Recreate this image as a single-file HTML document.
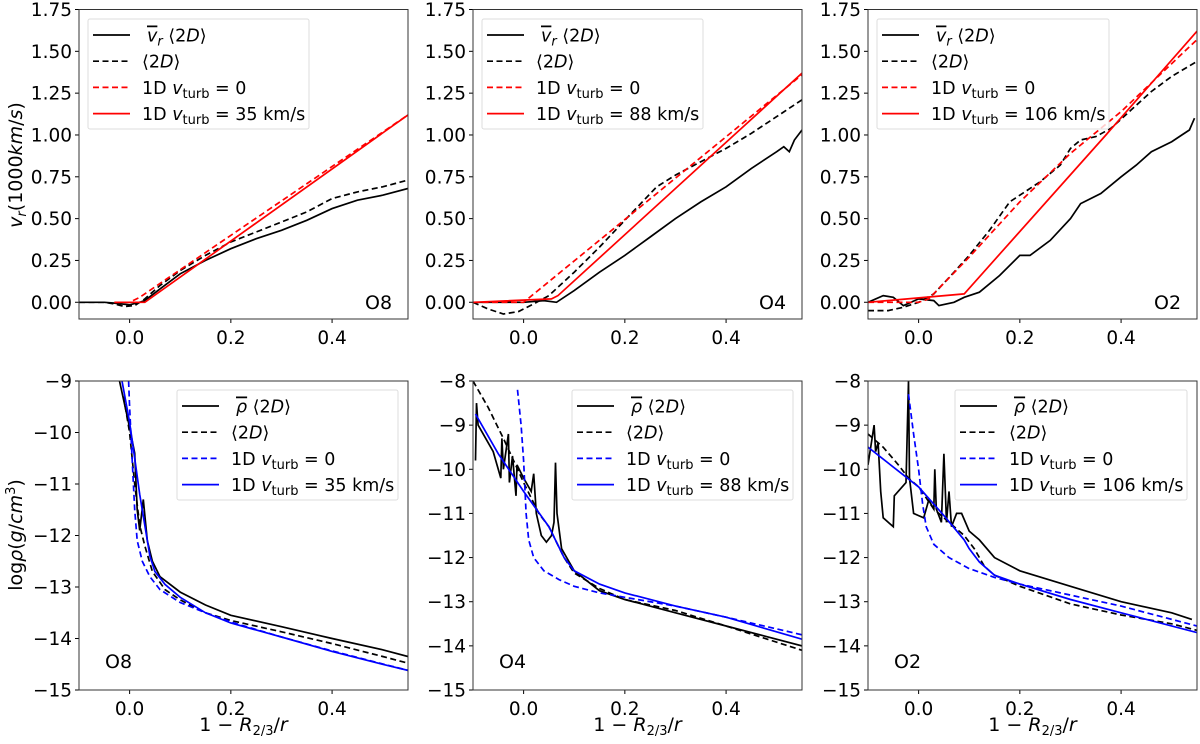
<!DOCTYPE html>
<html><head><meta charset="utf-8"><style>
html,body{margin:0;padding:0;background:#fff}
svg{display:block;font-family:"DejaVu Sans","Liberation Sans",sans-serif}
</style></head><body>
<svg id="fig" width="1200" height="744" viewBox="0 0 1200 744" xmlns="http://www.w3.org/2000/svg"></svg>
<script>
// ---- data (x = 1 - R2/3/r) ----
const vO8_2Dx=[-0.1,-0.05,-0.03,0,0.02,0.03,0.06,0.1,0.15,0.2,0.25,0.3,0.35,0.4,0.45,0.5,0.55];
const vO8_2D=[0,0,-0.005,-0.015,0,0.01,0.08,0.17,0.25,0.32,0.38,0.43,0.49,0.56,0.61,0.64,0.68];
const vO8_2Dmx=[-0.1,-0.05,-0.03,-0.01,0.01,0.03,0.06,0.1,0.15,0.2,0.25,0.3,0.35,0.4,0.45,0.5,0.55];
const vO8_2Dm=[0,0,-0.01,-0.025,-0.02,0.02,0.1,0.19,0.28,0.36,0.42,0.48,0.54,0.62,0.66,0.69,0.73];
const vO8_1D0x=[-0.03,0,0.02,0.55];
const vO8_1D0=[0,0,0.03,1.12];
const vO8_1Dtx=[-0.03,0.03,0.55];
const vO8_1Dt=[0,0,1.12];

const vO4_2Dx=[-0.1,0,0.04,0.065,0.1,0.15,0.2,0.25,0.3,0.35,0.4,0.45,0.5,0.514,0.525,0.535,0.55];
const vO4_2D=[0,0,0.01,0,0.07,0.18,0.28,0.39,0.5,0.6,0.69,0.8,0.9,0.93,0.9,0.97,1.03];
const vO4_2Dmx=[-0.1,-0.07,-0.04,-0.01,0.02,0.05,0.1,0.15,0.2,0.263,0.3,0.35,0.4,0.45,0.5,0.55];
const vO4_2Dm=[0,-0.04,-0.07,-0.055,-0.01,0.04,0.18,0.33,0.49,0.69,0.76,0.84,0.92,1.01,1.11,1.21];
const vO4_1D0x=[-0.1,0,0.55];
const vO4_1D0=[0,0,1.36];
const vO4_1Dtx=[-0.1,0.055,0.068,0.55];
const vO4_1Dt=[0,0.02,0.04,1.37];

const vO2_2Dx=[-0.1,-0.07,-0.05,-0.03,0,0.03,0.04,0.07,0.09,0.12,0.16,0.2,0.22,0.26,0.3,0.32,0.36,0.4,0.43,0.46,0.5,0.52,0.535,0.545];
const vO2_2D=[0,0.04,0.03,-0.02,0.02,0.01,-0.02,0,0.03,0.06,0.16,0.28,0.28,0.37,0.5,0.59,0.65,0.75,0.82,0.9,0.96,1.0,1.03,1.1];
const vO2_2Dmx=[-0.1,-0.06,-0.03,0,0.03,0.07,0.1,0.14,0.18,0.2,0.24,0.28,0.3,0.32,0.35,0.38,0.42,0.46,0.5,0.55];
const vO2_2Dm=[-0.05,-0.05,-0.03,0,0.05,0.18,0.28,0.43,0.6,0.64,0.72,0.82,0.92,0.97,0.99,1.04,1.15,1.26,1.35,1.44];
const vO2_1D0x=[-0.1,0,0.02,0.1,0.2,0.3,0.4,0.55];
const vO2_1D0=[0,0,0.02,0.27,0.6,0.89,1.14,1.57];
const vO2_1Dtx=[-0.1,0.09,0.37,0.55];
const vO2_1Dt=[0,0.05,1.0,1.62];

const rO8_2Dx=[-0.02,0,0.01,0.015,0.02,0.027,0.035,0.045,0.06,0.1,0.15,0.2,0.3,0.4,0.5,0.55];
const rO8_2D=[-9,-9.9,-10.4,-11.5,-11.9,-11.3,-12.1,-12.5,-12.8,-13.1,-13.35,-13.55,-13.77,-14.0,-14.22,-14.35];
const rO8_2Dmx=[-0.012,0,0.01,0.02,0.03,0.045,0.07,0.1,0.15,0.2,0.3,0.4,0.5,0.55];
const rO8_2Dm=[-9.3,-10.0,-11,-11.8,-12.2,-12.7,-13.05,-13.25,-13.5,-13.65,-13.87,-14.1,-14.35,-14.48];
const rO8_1D0x=[-0.002,0,0.005,0.01,0.015,0.025,0.04,0.06,0.1,0.15,0.2,0.3,0.4,0.55];
const rO8_1D0=[-9,-9.5,-10.5,-11.5,-12.1,-12.5,-12.8,-13.05,-13.3,-13.5,-13.68,-13.97,-14.24,-14.62];
const rO8_1Dtx=[-0.015,0,0.01,0.02,0.03,0.04,0.05,0.07,0.1,0.15,0.2,0.3,0.4,0.5,0.55];
const rO8_1Dt=[-9,-9.8,-10.5,-11.2,-11.8,-12.4,-12.7,-12.95,-13.2,-13.5,-13.7,-13.97,-14.25,-14.5,-14.62];

const rO4_2Dx=[-0.095,-0.093,-0.09,-0.06,-0.045,-0.043,-0.04,-0.03,-0.028,-0.022,-0.015,-0.013,0,0.015,0.02,0.025,0.035,0.045,0.055,0.06,0.063,0.066,0.075,0.09,0.1,0.15,0.2,0.3,0.4,0.55];
const rO4_2D=[-9.8,-8.5,-9.0,-9.6,-10.2,-9.3,-10.0,-9.2,-10.3,-9.7,-10.6,-9.9,-10.2,-10.5,-10.1,-11.0,-11.5,-11.65,-11.5,-11.2,-9.85,-11.0,-11.8,-12.1,-12.3,-12.75,-12.95,-13.25,-13.55,-14.0];
const rO4_2Dmx=[-0.1,-0.07,-0.04,0,0.03,0.05,0.08,0.1,0.15,0.2,0.3,0.4,0.55];
const rO4_2Dm=[-8.0,-8.6,-9.3,-10.3,-11.0,-11.3,-12.0,-12.35,-12.7,-12.95,-13.2,-13.55,-14.1];
const rO4_1D0x=[-0.012,-0.005,0,0.005,0.01,0.02,0.04,0.07,0.1,0.15,0.2,0.3,0.4,0.55];
const rO4_1D0=[-8.2,-9,-9.8,-11,-11.6,-12.0,-12.3,-12.5,-12.65,-12.8,-12.9,-13.1,-13.35,-13.75];
const rO4_1Dtx=[-0.095,-0.05,0,0.05,0.08,0.1,0.15,0.2,0.3,0.4,0.55];
const rO4_1Dt=[-8.75,-9.65,-10.5,-11.3,-12.0,-12.3,-12.6,-12.8,-13.1,-13.35,-13.85];

const rO2_2Dx=[-0.1,-0.088,-0.085,-0.08,-0.075,-0.07,-0.06,-0.05,-0.048,-0.025,-0.02,-0.018,-0.01,0,0.01,0.02,0.03,0.032,0.035,0.045,0.05,0.055,0.06,0.065,0.075,0.085,0.1,0.12,0.15,0.2,0.3,0.4,0.5,0.54];
const rO2_2D=[-9.9,-9.0,-9.6,-9.4,-10.5,-11.1,-11.2,-11.3,-10.6,-10.3,-8.0,-10.2,-11.0,-11.05,-11.1,-10.7,-10.9,-10.0,-10.9,-11.2,-9.65,-11.2,-10.5,-11.3,-11.0,-11.0,-11.4,-11.6,-12.0,-12.3,-12.65,-13.0,-13.25,-13.4];
const rO2_2Dmx=[-0.1,-0.07,-0.04,-0.02,0,0.03,0.06,0.09,0.11,0.13,0.15,0.2,0.3,0.4,0.5,0.55];
const rO2_2Dm=[-9.2,-9.5,-9.9,-10.2,-10.4,-10.9,-11.2,-11.5,-11.8,-12.2,-12.4,-12.65,-13.05,-13.3,-13.5,-13.65];
const rO2_1D0x=[-0.02,-0.01,0,0.008,0.015,0.03,0.06,0.1,0.15,0.2,0.3,0.4,0.55];
const rO2_1D0=[-8.3,-9.2,-10.0,-10.8,-11.3,-11.7,-12.0,-12.25,-12.45,-12.6,-12.85,-13.1,-13.55];
const rO2_1Dtx=[-0.1,0,0.05,0.09,0.1,0.12,0.15,0.2,0.3,0.4,0.55];
const rO2_1Dt=[-9.5,-10.4,-11.05,-11.6,-11.8,-12.1,-12.4,-12.6,-12.95,-13.25,-13.7];

const xTicks=[0.0,0.2,0.4];
const xTickLabels=["0.0","0.2","0.4"];
const vTicks=[0,0.25,0.5,0.75,1.0,1.25,1.5,1.75];
const vTickLabels=["0.00","0.25","0.50","0.75","1.00","1.25","1.50","1.75"];
const rTicks=[-15,-14,-13,-12,-11,-10,-9,-8];
const rTickLabels=["\u221215","\u221214","\u221213","\u221212","\u221211","\u221210","\u22129","\u22128"];
const modelNames=["O8","O4","O2"];
const turbLabels=["35","88","106"];

const NS="http://www.w3.org/2000/svg";
const fig=document.getElementById('fig');
function mk(tag,attrs,parent){const e=document.createElementNS(NS,tag);for(const k in attrs)e.setAttribute(k,attrs[k]);(parent||fig).appendChild(e);return e;}

const FT=18.5, FL=17.5;
const lefts=[79,473,868], W=329;
const rows=[{top:9.5,bot:319,ymin:-0.1,ymax:1.75,ticks:vTicks,labels:vTickLabels},
            {top:381,bot:690,ymin:-15,ymax:-8,ticks:rTicks,labels:rTickLabels}];
const vSeries=[[vO8_2Dx,vO8_2D,vO8_2Dmx,vO8_2Dm,vO8_1D0x,vO8_1D0,vO8_1Dtx,vO8_1Dt],
               [vO4_2Dx,vO4_2D,vO4_2Dmx,vO4_2Dm,vO4_1D0x,vO4_1D0,vO4_1Dtx,vO4_1Dt],
               [vO2_2Dx,vO2_2D,vO2_2Dmx,vO2_2Dm,vO2_1D0x,vO2_1D0,vO2_1Dtx,vO2_1Dt]];
const rSeries=[[rO8_2Dx,rO8_2D,rO8_2Dmx,rO8_2Dm,rO8_1D0x,rO8_1D0,rO8_1Dtx,rO8_1Dt],
               [rO4_2Dx,rO4_2D,rO4_2Dmx,rO4_2Dm,rO4_1D0x,rO4_1D0,rO4_1Dtx,rO4_1Dt],
               [rO2_2Dx,rO2_2D,rO2_2Dmx,rO2_2Dm,rO2_1D0x,rO2_1D0,rO2_1Dtx,rO2_1Dt]];

function panel(r,c){
  const row=rows[r];
  let ymin=row.ymin;
  let ymax=(r===1&&c===0)?-9:row.ymax;
  const L=lefts[c],R=L+W,T=row.top,B=row.bot;
  const xs=x=>L+(x+0.1)/0.65*W;
  const ys=y=>B-(y-ymin)/(ymax-ymin)*(B-T);
  const g=mk('g',{});
  
  
  const cid='clip'+r+c;
  const cp=mk('clipPath',{id:cid},g); mk('rect',{x:L,y:T,width:W,height:B-T},cp);
  xTicks.forEach((t,i)=>{const x=xs(t);
    mk('line',{x1:x,x2:x,y1:B,y2:B+4,stroke:'#000','stroke-width':1},g);
    const tx=mk('text',{x:x,y:B+25,'font-size':FT,'text-anchor':'middle'},g);tx.textContent=xTickLabels[i];
    
    });
  row.ticks.forEach((t,i)=>{if(t<ymin-1e-9||t>ymax+1e-9)return;const y=ys(t);
    mk('line',{x1:L-4,x2:L,y1:y,y2:y,stroke:'#000','stroke-width':1},g);
    const tx=mk('text',{x:L-7,y:y+6.5,'font-size':FT,'text-anchor':'end'},g);tx.textContent=row.labels[i];
    
    });
  const S=(r===0?vSeries:rSeries)[c];
  const col=r===0?'#ff0000':'#0000ff';
  const styles=[['#000',null],['#000','6,3.5'],[col,'6,3.5'],[col,null]];
  const names=['mean-2d','mass-weighted-2d','1d-vturb-0','1d-vturb'];
  const lg=mk('g',{'clip-path':'url(#'+cid+')'},g);
  for(let k=0;k<4;k++){
    const X=S[2*k],Y=S[2*k+1];
    const d=X.map((x,i)=>(i?'L':'M')+xs(x).toFixed(1)+','+ys(Y[i]).toFixed(1)).join('');
    const p=mk('path',{d:d,fill:'none',stroke:styles[k][0],'stroke-width':1.7},lg);
    if(styles[k][1])p.setAttribute('stroke-dasharray',styles[k][1]);
    
    
  }
  mk('rect',{x:L,y:T,width:W,height:B-T,fill:'none',stroke:'#333','stroke-width':1},g);
  const ml=mk('text',{'font-size':19},g);
  if(r===0){ml.setAttribute('x',R-43);ml.setAttribute('y',B-10);}
  else{ml.setAttribute('x',L+26);ml.setAttribute('y',B-22);}
  ml.textContent=modelNames[c];
  
  
  let lx,ly;
  if(r===0){lx=L+9;ly=19;} else {lx=[177,572,955][c];ly=390;}
  const lw=c===2?232:221;
  const leg=mk('g',{},g);
  
  
  mk('rect',{x:lx,y:ly,width:lw,height:110,fill:'#fff','fill-opacity':0.8,stroke:'#ddd','stroke-width':1,rx:2},leg);
  for(let k=0;k<4;k++){
    const yy=ly+16+k*26.2;
    const ln=mk('line',{x1:lx+5,x2:lx+42,y1:yy,y2:yy,stroke:styles[k][0],'stroke-width':1.7},leg);
    if(styles[k][1])ln.setAttribute('stroke-dasharray',styles[k][1]);
    const t=mk('text',{x:lx+54,y:yy+6.5,'font-size':FL},leg);
    
    
    if(k===0){
      const sym=r===0?'v':'\u03c1';
      t.innerHTML='<tspan x="'+(lx+59)+'" font-style="italic" text-decoration="overline">'+sym+'</tspan>'+(r===0?'<tspan font-style="italic" font-size="13" dy="4">r</tspan><tspan dy="-4"> \u27e8</tspan>':'<tspan> \u27e8</tspan>')+'2<tspan font-style="italic">D</tspan>\u27e9';
    } else if(k===1){
      t.innerHTML='\u27e82<tspan font-style="italic">D</tspan>\u27e9';
    } else {
      t.innerHTML='1D <tspan font-style="italic">v</tspan><tspan font-size="13" dy="4">turb</tspan><tspan dy="-4"> = '+(k===2?'0':turbLabels[c]+' km/s')+'</tspan>';
    }
  }
  if(r===1){
    const xl=mk('text',{x:L+W/2,y:731,'font-size':19,'text-anchor':'middle'},g);
    xl.innerHTML='1 \u2212 <tspan font-style="italic">R</tspan><tspan font-size="13" dy="4">2/3</tspan><tspan dy="-4">/</tspan><tspan font-style="italic">r</tspan>';
    
    
  }
}
for(let r=0;r<2;r++)for(let c=0;c<3;c++)panel(r,c);
const yl1=mk('text',{x:0,y:0,'font-size':19,'text-anchor':'middle',transform:'translate(22,165) rotate(-90)'});
yl1.innerHTML='<tspan font-style="italic">v</tspan><tspan font-style="italic" font-size="13" dy="4">r</tspan><tspan dy="-4">(1000</tspan><tspan font-style="italic">km</tspan>/<tspan font-style="italic">s</tspan>)';


const yl2=mk('text',{x:0,y:0,'font-size':19,'text-anchor':'middle',transform:'translate(22,535) rotate(-90)'});
yl2.innerHTML='log<tspan font-style="italic">\u03c1</tspan>(<tspan font-style="italic">g</tspan>/<tspan font-style="italic">cm</tspan><tspan font-size="13" dy="-7">3</tspan><tspan dy="7">)</tspan>';


</script>
</body></html>
